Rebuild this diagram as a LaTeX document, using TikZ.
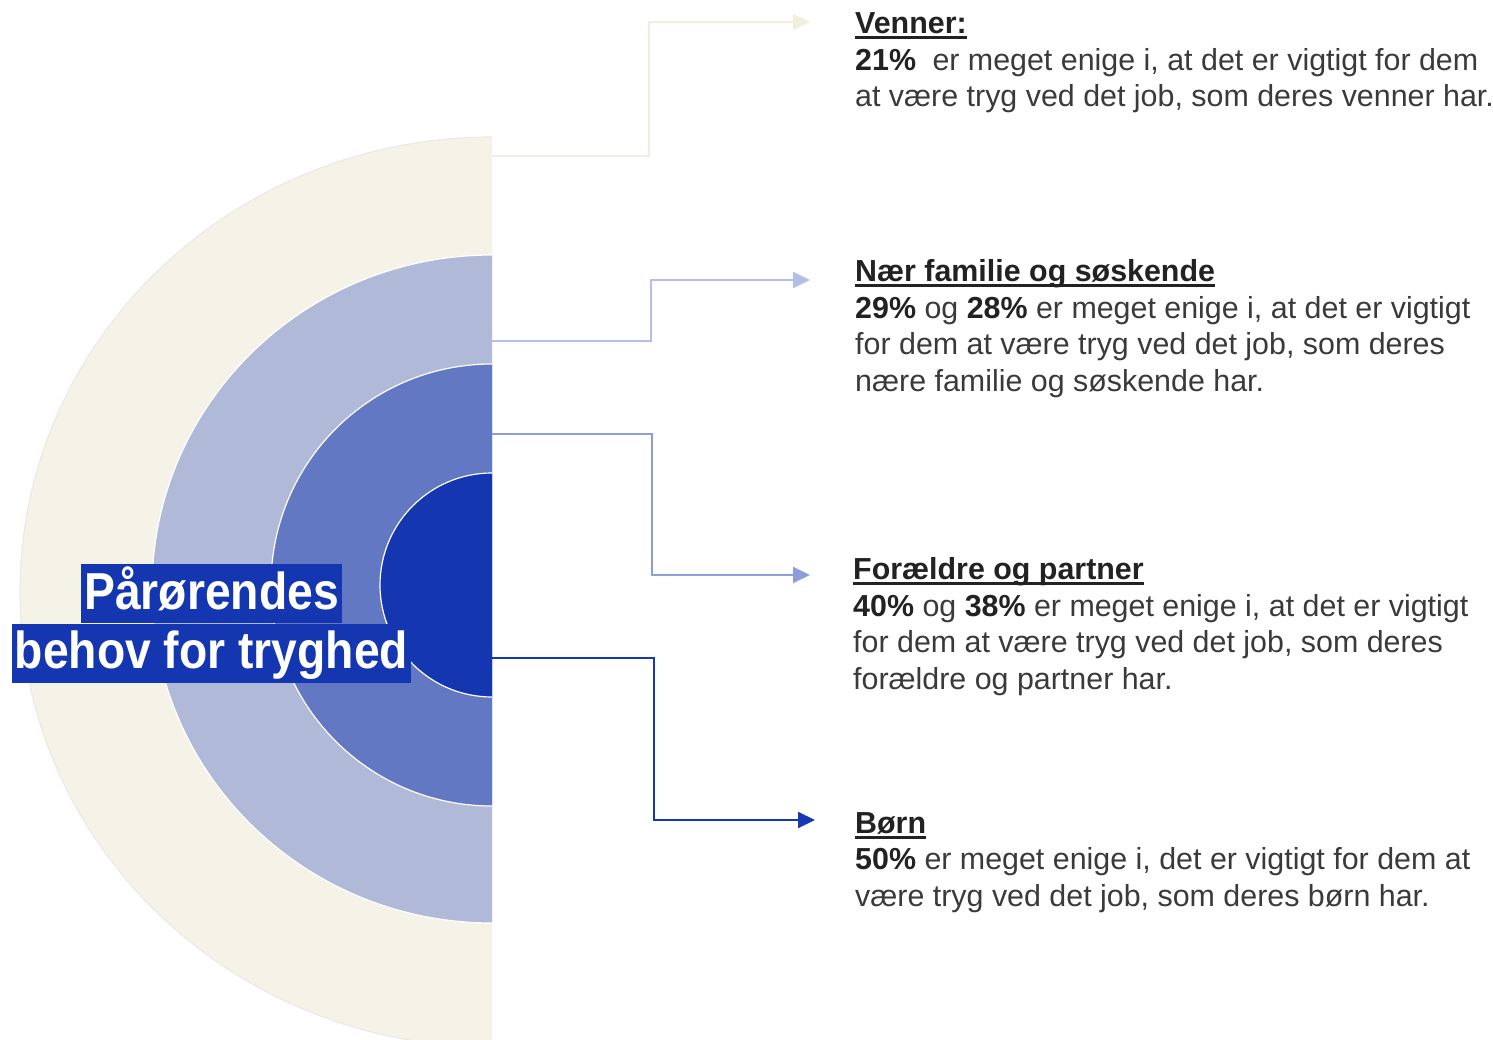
\documentclass[tikz,border=0pt]{standalone}
\usepackage{fontspec}
\setmainfont{Liberation Sans}
\newfontfamily\titlefont[FakeStretch=0.89]{Liberation Sans}
\usetikzlibrary{arrows.meta, positioning}

\definecolor{ringA}{HTML}{F5F3E8}
\definecolor{ringB}{HTML}{B0BAD8}
\definecolor{ringC}{HTML}{6378C2}
\definecolor{ringD}{HTML}{1436B0}
\definecolor{lineA}{HTML}{F2EEDC}
\definecolor{lineB}{HTML}{B3BFE8}
\definecolor{lineC}{HTML}{8C9EDC}
\definecolor{lineD}{HTML}{1638B4}
\definecolor{ink}{HTML}{222222}
\definecolor{body}{HTML}{3A3A3A}

% bold heading with a thick rule under it
\newsavebox{\hdbox}
\newcommand{\hdline}[1]{\sbox{\hdbox}{\color{ink}\textbf{#1}}\rlap{\color{ink}\rule[-5.5pt]{\wd\hdbox}{3pt}}\usebox{\hdbox}}

\begin{document}
\begin{tikzpicture}[
    x=1pt,
    y=-1pt,
    ring/.style={draw=white, line width=1.2pt},
    link/.style={line width=2pt, -{Triangle[length=17pt, width=16pt]}},
    title/.style={fill=ringD, text=white, font=\titlefont\bfseries\fontsize{52}{52}\selectfont,
                  inner xsep=3pt, inner ysep=5pt, text height=40pt, text depth=9pt},
    info/.style={anchor=base west, inner sep=0pt, align=left, text=body,
                 font=\fontsize{30.4}{36.5}\selectfont},
]

    \useasboundingbox (0,0) rectangle (1493,1040);

    % half rings
    \begin{scope}
        \clip (0,0) rectangle (492,1040);
        \fill[ring, fill=ringA, draw=ringA!85!ringB] (492,592) ellipse [x radius=472, y radius=455];
        \fill[ring, fill=ringB] (492,589) ellipse [x radius=340, y radius=334];
        \fill[ring, fill=ringC] (492,585) circle [radius=221];
        \fill[ring, fill=ringD] (492,585) circle [radius=112];
    \end{scope}

    \node[title, anchor=north] (T1) at (211.5,564) {Pårørendes};
    \node[title, below=0pt of T1] (T2) {behov for tryghed};

    % start and end points of the links
    \coordinate (s1) at (492,156);
    \coordinate (s2) at (492,341);
    \coordinate (s3) at (492,434);
    \coordinate (s4) at (492,658);
    \coordinate (e1) at (810,22);
    \coordinate (e2) at (810,280);
    \coordinate (e3) at (810,575);
    \coordinate (e4) at (815,820);

    \draw[link, lineA] (s1) -- ++(157,0) |- (e1);
    \draw[link, lineB] (s2) -- ++(159,0) |- (e2);
    \draw[link, lineC] (s3) -- ++(160,0) |- (e3);
    \draw[link, lineD] (s4) -- ++(162,0) |- (e4);

    % base of each block = baseline of its last line
    \node[info] (venner) at (855,107) {\hdline{Venner:}\\
        \textbf{\color{ink}21\%}\hspace{8pt} er meget enige i, at det er vigtigt for dem\\
        at være tryg ved det job, som deres venner har.};
    \node[info] (familie) at (855,391) {\hdline{Nær familie og søskende}\\
        \textbf{\color{ink}29\%} og \textbf{\color{ink}28\%} er meget enige i, at det er vigtigt\\
        for dem at være tryg ved det job, som deres\\
        nære familie og søskende har.};
    \node[info] (foraeldre) at (853,689) {\hdline{Forældre og partner}\\
        \textbf{\color{ink}40\%} og \textbf{\color{ink}38\%} er meget enige i, at det er vigtigt\\
        for dem at være tryg ved det job, som deres\\
        forældre og partner har.};
    \node[info] (boern) at (855,906) {\hdline{Børn}\\
        \textbf{\color{ink}50\%} er meget enige i, det er vigtigt for dem at\\
        være tryg ved det job, som deres børn har.};
\end{tikzpicture}
\end{document}
